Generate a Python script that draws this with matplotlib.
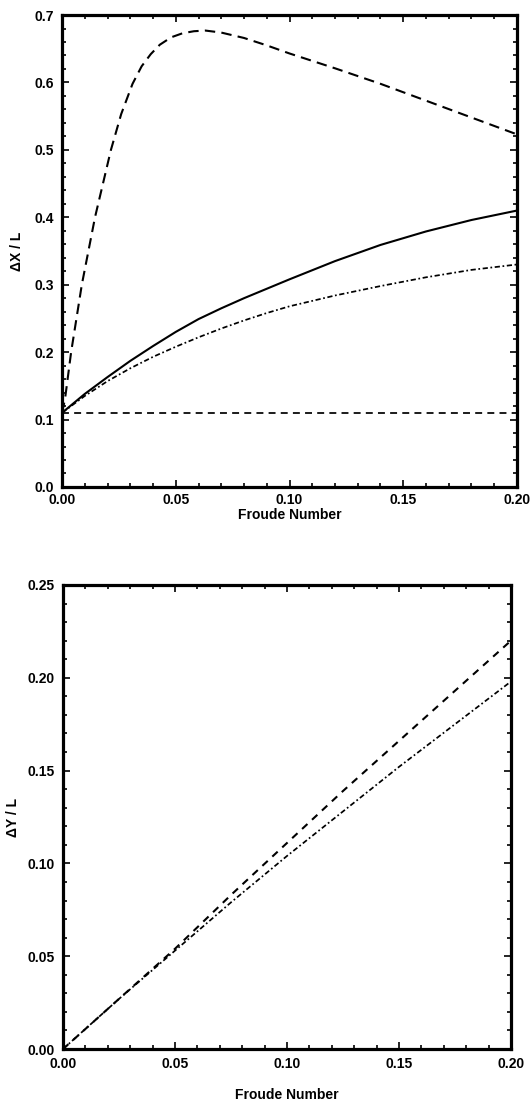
import matplotlib
matplotlib.use("Agg")
import matplotlib.pyplot as plt
from matplotlib.ticker import MultipleLocator, FormatStrFormatter

plt.rcParams['font.family'] = ['Liberation Sans', 'DejaVu Sans']
plt.rcParams['font.weight'] = 'bold'

# ---- Top panel data (ΔX / L) ----
froude_dx_dashed = [0.0, 0.0013, 0.004, 0.0087, 0.0145, 0.0215, 0.026, 0.031, 0.035, 0.039,
                    0.043, 0.048, 0.053, 0.058, 0.063, 0.07, 0.08, 0.09, 0.10, 0.12,
                    0.14, 0.16, 0.18, 0.20]
dx_dashed = [0.11, 0.13, 0.20, 0.30, 0.40, 0.50, 0.553, 0.598, 0.624, 0.642,
             0.656, 0.667, 0.673, 0.676, 0.677, 0.674, 0.666, 0.655, 0.643, 0.621,
             0.598, 0.573, 0.548, 0.523]

froude_dx = [0.0, 0.01, 0.02, 0.03, 0.04, 0.05, 0.06, 0.07, 0.08, 0.09, 0.10,
             0.12, 0.14, 0.16, 0.18, 0.20]
dx_solid = [0.11, 0.138, 0.163, 0.187, 0.209, 0.230, 0.249, 0.265, 0.280, 0.294, 0.308,
            0.335, 0.359, 0.379, 0.396, 0.410]
dx_dashdot = [0.11, 0.135, 0.157, 0.176, 0.193, 0.208, 0.222, 0.235, 0.247, 0.258, 0.268,
              0.284, 0.298, 0.311, 0.322, 0.330]
dx_flat = [0.11, 0.11, 0.11, 0.11, 0.11, 0.11, 0.11, 0.11, 0.11, 0.11, 0.11,
           0.11, 0.11, 0.11, 0.11, 0.11]

# ---- Bottom panel data (ΔY / L) ----
froude_dy = [0.0, 0.025, 0.05, 0.075, 0.10, 0.125, 0.15, 0.175, 0.20]
dy_dashed = [0.0, 0.027, 0.054, 0.083, 0.111, 0.139, 0.166, 0.193, 0.220]
dy_dashdot = [0.0, 0.027, 0.053, 0.079, 0.104, 0.128, 0.152, 0.175, 0.198]

x_ticks = [0.00, 0.05, 0.10, 0.15, 0.20]

fig = plt.figure(figsize=(5.31, 11.06), dpi=100)
ax1 = fig.add_axes([0.1168, 0.5597, 0.8568, 0.4267])
ax2 = fig.add_axes([0.1186, 0.0515, 0.8437, 0.4196])

lw = 1.5
ax1.plot(froude_dx_dashed, dx_dashed, color='black', lw=lw, dashes=(5, 3))
ax1.plot(froude_dx, dx_solid, color='black', lw=lw)
ax1.plot(froude_dx, dx_dashdot, color='black', lw=1.25, dashes=(3, 1.5, 1, 1.5))
ax1.plot(froude_dx, dx_flat, color='black', lw=1.25, dashes=(4, 3))

ax2.plot(froude_dy, dy_dashed, color='black', lw=lw, dashes=(3.5, 3))
ax2.plot(froude_dy, dy_dashdot, color='black', lw=1.25, dashes=(3, 1.5, 1, 1.5))

ax1.set_xlim(0, 0.2)
ax1.set_ylim(0, 0.7)
ax2.set_xlim(0, 0.2)
ax2.set_ylim(0, 0.25)

for ax in (ax1, ax2):
    ax.set_xticks(x_ticks)
    ax.xaxis.set_major_formatter(FormatStrFormatter('%.2f'))
    ax.xaxis.set_minor_locator(MultipleLocator(0.01))
    for s in ax.spines.values():
        s.set_linewidth(2.3)
    ax.tick_params(which='both', direction='in', top=True, right=True,
                   labelsize=10, width=1.2)
    ax.tick_params(which='major', length=5, pad=6)
    ax.tick_params(which='minor', length=3)
    for lab in ax.get_xticklabels() + ax.get_yticklabels():
        lab.set_fontweight('bold')
    ax.set_xlabel('Froude Number', fontsize=10, fontweight='bold')

ax1.tick_params(axis='x', which='major', pad=4)

ax1.yaxis.set_major_locator(MultipleLocator(0.1))
ax1.yaxis.set_minor_locator(MultipleLocator(0.02))
ax1.yaxis.set_major_formatter(FormatStrFormatter('%.1f'))
ax2.yaxis.set_major_locator(MultipleLocator(0.05))
ax2.yaxis.set_minor_locator(MultipleLocator(0.01))
ax2.yaxis.set_major_formatter(FormatStrFormatter('%.2f'))

ax1.xaxis.labelpad = 1
ax2.xaxis.labelpad = 12
ax1.set_ylabel('ΔX / L', fontsize=10, fontweight='bold', labelpad=7)
ax2.set_ylabel('ΔY / L', fontsize=10, fontweight='bold', labelpad=5)

fig.savefig('out.png', dpi=100)
